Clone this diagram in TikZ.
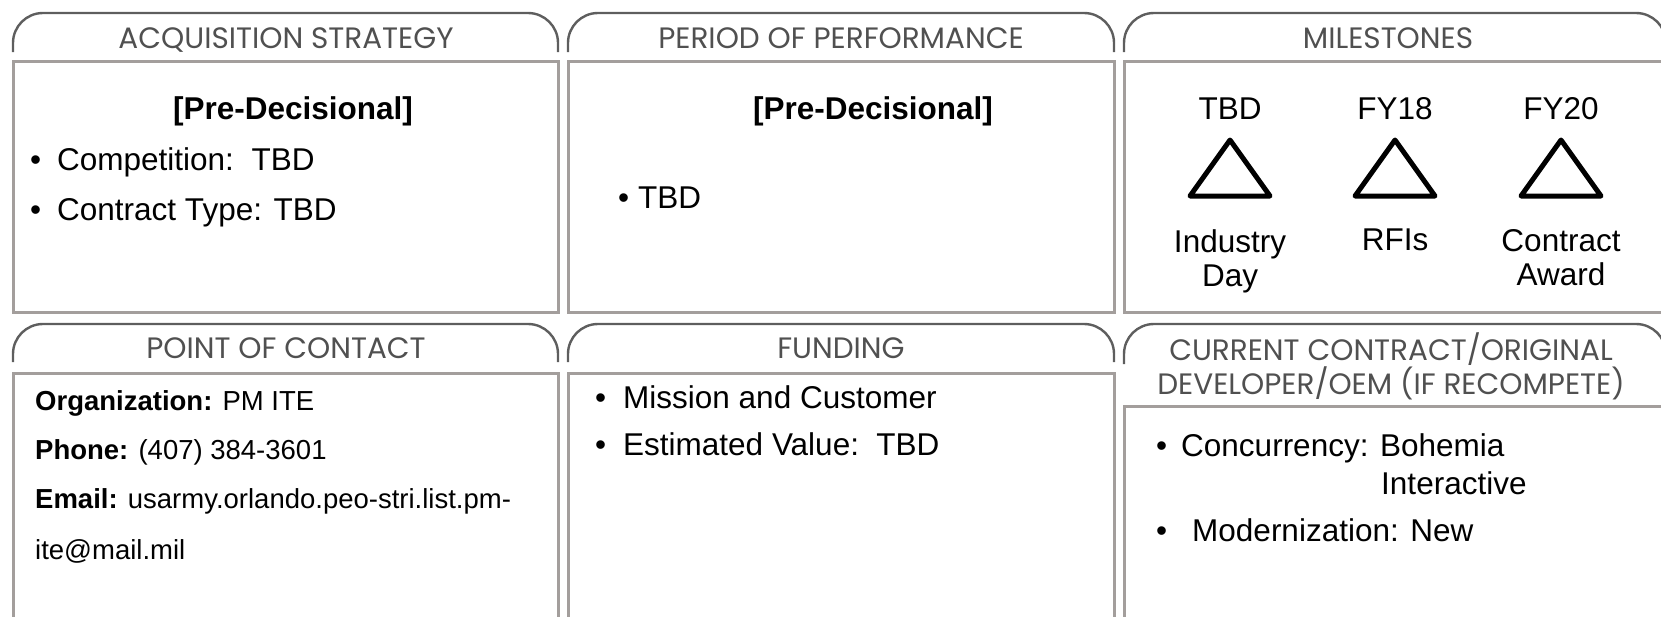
\documentclass[tikz,border=0pt]{standalone}
\usepackage{fontspec}
\usepackage{xcolor}
\setmainfont{Liberation Sans}
\newfontfamily\headfont{Poppins}
\usetikzlibrary{positioning,calc}

\definecolor{boxgray}{HTML}{A39E9C}
\definecolor{tabgray}{HTML}{5E5E5E}
\definecolor{headgray}{HTML}{505050}

\tikzset{
    panel/.style={draw=boxgray, line width=3pt},
    tabline/.style={draw=tabgray, line width=2.4pt, rounded corners=30pt},
    head/.style={font=\headfont\fontsize{29.5}{31}\selectfont, text=headgray, inner sep=0pt, align=center},
    body/.style={font=\fontsize{31.5}{34}\selectfont, inner sep=0pt, anchor=base west},
    pre/.style={font=\bfseries\fontsize{31.5}{34}\selectfont, inner sep=0pt, anchor=base},
    poc/.style={font=\fontsize{27.5}{30}\selectfont, inner sep=0pt, anchor=base west},
    mile/.style={font=\fontsize{31.5}{34}\selectfont, inner sep=0pt, align=center},
    tri/.style={draw=black, line width=5pt, line join=round}
}

\begin{document}
\begin{tikzpicture}[x=1pt, y=-1pt]
    \useasboundingbox (0,0) rectangle (1661,616);
    \clip (0,0) rectangle (1661,616);

    % Tabs, top row
    \draw[tabline] (13,52) -- (13,13) -- (558,13) -- (558,52);
    \draw[tabline] (568,52) -- (568,13) -- (1114,13) -- (1114,52);
    \draw[tabline] (1124,52) -- (1124,13) -- (1666,13) -- (1666,52);

    % Boxes, top row
    \draw[panel] (13,61) rectangle (558,312);
    \draw[panel] (568,61) rectangle (1114,312);
    \draw[panel] (1124,61) rectangle (1680,312);

    % Tabs, bottom row
    \draw[tabline] (13,362) -- (13,324) -- (558,324) -- (558,362);
    \draw[tabline] (568,362) -- (568,324) -- (1114,324) -- (1114,362);
    \draw[tabline] (1124,364) -- (1124,324) -- (1666,324) -- (1666,364);

    % Boxes, bottom row
    \draw[panel] (13,373) rectangle (558,640);
    \draw[panel] (568,373) rectangle (1114,640);
    \draw[panel] (1124,406) rectangle (1680,640);

    % Headers
    \node[head, anchor=base] (acqHead) at (286,48) {ACQUISITION STRATEGY};
    \node[head, anchor=base] (perfHead) at (841,48) {PERIOD OF PERFORMANCE};
    \node[head, anchor=base] (mileHead) at (1388,48) {MILESTONES};
    \node[head, anchor=base] (pocHead) at (286,358) {POINT OF CONTACT};
    \node[head, anchor=base] (fundHead) at (841,358) {FUNDING};
    \node[head, anchor=north] (oemHead) at (1391,333) {CURRENT CONTRACT/ORIGINAL\\DEVELOPER/OEM (IF RECOMPETE)};

    % Acquisition strategy
    \node[pre] (acqPre) at (293,119) {[Pre-Decisional]};
    \node[body] (acqComp) at (30,170) {•\hspace{16pt}Competition:~~TBD};
    \node[body] (acqType) at (30,220) {•\hspace{16pt}Contract Type: TBD};

    % Period of performance
    \node[pre] (perfPre) at (873,119) {[Pre-Decisional]};
    \node[body] (perfTbd) at (618,208) {•\hspace{9pt}TBD};

    % Milestones
    \foreach \x/\when/\what [count=\i] in {1230/TBD/{Industry\\Day}, 1395/FY18/RFIs, 1561/FY20/{Contract\\Award}} {
        \node[mile, anchor=base] (mdate\i) at (\x,119) {\when};
        \draw[tri] (\x,140) -- (\x+40,196) -- (\x-40,196) -- cycle;
        \node[mile, anchor=north] (mname\i) at (\x,229) {\what};
    }

    % Point of contact
    \node[poc] (pocOrg) at (35,410) {\textbf{Organization:} PM ITE};
    \node[poc] (pocPhone) at (35,459) {\textbf{Phone:} (407) 384-3601};
    \node[poc] (pocMail) at (35,508) {\textbf{Email:} usarmy.orlando.peo-stri.list.pm-};
    \node[poc] (pocMail2) at (35,559) {ite@mail.mil};

    % Funding
    \node[body] (fundMis) at (595,408) {•\hspace{17pt}Mission and Customer};
    \node[body] (fundVal) at (595,455) {•\hspace{17pt}Estimated Value:~~TBD};

    % Current contract
    \node[body] (oemConc) at (1156,456) {•\hspace{14pt}Concurrency: Bohemia};
    \node[body] (oemInt) at (1381,494) {Interactive};
    \node[body] (oemMod) at (1156,541) {•\hspace{25pt}Modernization: New};

\end{tikzpicture}
\end{document}
